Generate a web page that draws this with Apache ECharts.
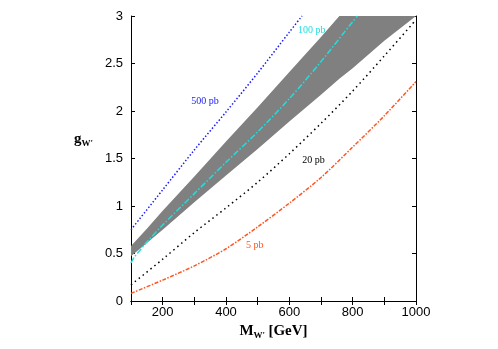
<!DOCTYPE html>
<html>
<head>
<meta charset="utf-8">
<script src="https://cdn.jsdelivr.net/npm/echarts@6/dist/echarts.min.js"></script>
<style>
  html, body { margin: 0; padding: 0; background: #fff; }
  #chart { width: 498px; height: 349px; }
</style>
</head>
<body>
<div id="chart"></div>
<script>
// band (grey) edges
const bandMass = [100, 150, 200, 300, 400, 500, 600, 700, 758, 800, 900, 1000];
const bandLow  = [0.47, 0.61, 0.75, 1.04, 1.32, 1.60, 1.89, 2.17, 2.34, 2.45, 2.74, 3.0];
const bandHigh = [0.58, 0.76, 0.95, 1.31, 1.68, 2.04, 2.41, 2.78, 3.0, 3.0, 3.0, 3.0];

// 500 pb (blue dotted)
const mass500 = [100, 200, 300, 400, 500, 600, 640];
const g500    = [0.75, 1.17, 1.59, 1.99, 2.40, 2.83, 3.0];

// 100 pb (cyan dash-dot)
const mass100 = [100, 110, 125, 150, 200, 300, 400, 500, 600, 700, 800, 815];
const g100    = [0.40, 0.46, 0.52, 0.62, 0.80, 1.13, 1.46, 1.78, 2.13, 2.52, 2.94, 3.0];

// 20 pb (black dotted)
const mass20 = [100, 200, 300, 400, 500, 600, 700, 800, 900, 1000];
const g20    = [0.17, 0.44, 0.72, 0.98, 1.25, 1.55, 1.87, 2.21, 2.58, 2.96];

// 5 pb (orange dash-dot)
const mass5 = [100, 200, 300, 400, 500, 600, 700, 800, 900, 1000];
const g5    = [0.08, 0.22, 0.37, 0.55, 0.78, 1.03, 1.30, 1.62, 1.95, 2.31];

// where the curve labels sit (data coordinates)
const labelText  = ['500 pb', '100 pb', '20 pb', '5 pb'];
const labelCoord = [[334, 2.10], [671, 2.85], [676, 1.48], [491, 0.59]];

const pairs = (xs, ys) => xs.map((x, i) => [x, ys[i]]);

function tag(i, color) {
    return {
        symbol: 'circle',
        symbolSize: 0,
        silent: true,
        label: {
            show: true,
            position: 'inside',
            formatter: labelText[i],
            color: color,
            fontFamily: 'Liberation Serif',
            fontSize: 10
        },
        data: [{ coord: labelCoord[i] }]
    };
}

// grey band drawn as one polygon: upper edge left->right, lower edge back
function renderBand(params, api) {
    if (params.dataIndex !== 0) return;
    const upper = bandMass.map((x, i) => api.coord([x, bandHigh[i]]));
    const lower = bandMass.map((x, i) => api.coord([x, bandLow[i]])).reverse();
    return {
        type: 'polygon',
        shape: { points: upper.concat(lower) },
        style: { fill: '#808080', stroke: null }
    };
}

const chart = echarts.init(document.getElementById('chart'));

const tickStyle = { show: true, inside: true, length: 4, lineStyle: { color: '#000', width: 1 } };
const lineAxis = { show: true, lineStyle: { color: '#000', width: 1 } };

const option = {
    animation: false,
    grid: { left: 131, right: 82, top: 16, bottom: 48, containLabel: false },
    xAxis: [{
        type: 'value',
        min: 100, max: 1000, interval: 100,
        axisLine: lineAxis,
        axisTick: tickStyle,
        splitLine: { show: false },
        axisLabel: {
            margin: 5,
            color: '#000',
            fontFamily: 'Liberation Sans',
            fontSize: 13,
            formatter: v => (v % 200 === 0 ? String(v) : '')
        },
        name: '{b|M}{s|W\'} {b|[GeV]}',
        nameLocation: 'middle',
        nameGap: 17,
        nameTextStyle: {
            rich: {
                b: { fontFamily: 'Liberation Serif', fontWeight: 'bold', fontSize: 15, color: '#000' },
                s: { fontFamily: 'Liberation Serif', fontWeight: 'bold', fontSize: 9, color: '#000', padding: [9, 0, 0, 0] }
            }
        }
    }, {
        type: 'value', position: 'top',
        min: 100, max: 1000, interval: 100,
        axisLine: lineAxis, axisTick: tickStyle,
        axisLabel: { show: false }, splitLine: { show: false }
    }],
    yAxis: [{
        type: 'value',
        min: 0, max: 3, interval: 0.5,
        axisLine: lineAxis,
        axisTick: tickStyle,
        splitLine: { show: false },
        axisLabel: { margin: 8, color: '#000', fontFamily: 'Liberation Sans', fontSize: 13 },
        name: '{b|g}{s|W\'}',
        nameLocation: 'middle',
        nameRotate: 0,
        nameGap: 38,
        nameTextStyle: {
            padding: [0, 0, 38, 0],
            rich: {
                b: { fontFamily: 'Liberation Serif', fontWeight: 'bold', fontSize: 15, color: '#000' },
                s: { fontFamily: 'Liberation Serif', fontWeight: 'bold', fontSize: 9, color: '#000', padding: [9, 0, 0, 0] }
            }
        }
    }, {
        type: 'value', position: 'right',
        min: 0, max: 3, interval: 0.5,
        axisLine: lineAxis, axisTick: tickStyle,
        axisLabel: { show: false }, splitLine: { show: false }
    }],
    series: [
        {
            name: 'band', type: 'custom', clip: true, silent: true,
            renderItem: renderBand,
            data: [[bandMass[0], bandLow[0]]],
            z: 1
        },
        {
            name: '500 pb', type: 'line', smooth: 0.3, symbol: 'none',
            data: pairs(mass500, g500),
            lineStyle: { color: '#1a1aff', width: 1.5, type: [1.5, 2] },
            markPoint: tag(0, '#1a1aff'), z: 3
        },
        {
            name: '100 pb', type: 'line', smooth: 0.3, symbol: 'none',
            data: pairs(mass100, g100),
            lineStyle: { color: '#22dddd', width: 1.5, type: [6, 2, 1.5, 2] },
            markPoint: tag(1, '#22dddd'), z: 3
        },
        {
            name: '20 pb', type: 'line', smooth: 0.3, symbol: 'none',
            data: pairs(mass20, g20),
            lineStyle: { color: '#000', width: 1.5, type: [1.5, 3.5] },
            markPoint: tag(2, '#000'), z: 3
        },
        {
            name: '5 pb', type: 'line', smooth: 0.3, symbol: 'none',
            data: pairs(mass5, g5),
            lineStyle: { color: '#ff5522', width: 1.5, type: [4, 1.5, 1.5, 1.5] },
            markPoint: tag(3, '#ff5522'), z: 3
        }
    ]
};

chart.setOption(option);
</script>
</body>
</html>
